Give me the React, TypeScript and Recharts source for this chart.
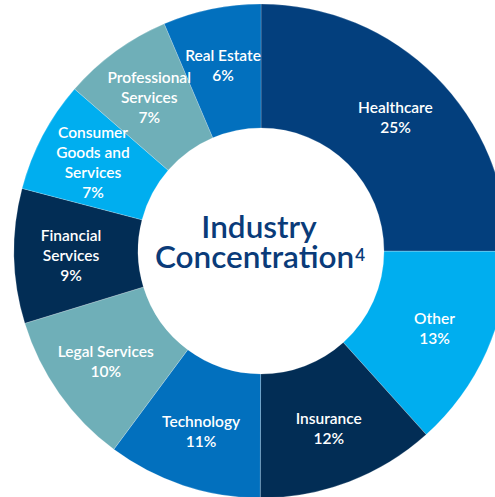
import React from "react";
import { PieChart, Pie, Cell } from "recharts";

const categories = [
  "Healthcare",
  "Other",
  "Insurance",
  "Technology",
  "Legal Services",
  "Financial Services",
  "Consumer Goods and Services",
  "Professional Services",
  "Real Estate",
];
const labelLines = [
  ["Healthcare"],
  ["Other"],
  ["Insurance"],
  ["Technology"],
  ["Legal Services"],
  ["Financial", "Services"],
  ["Consumer", "Goods and", "Services"],
  ["Professional", "Services"],
  ["Real Estate"],
];
// percentages printed on the chart
const pctLabels = ["25%", "13%", "12%", "11%", "10%", "9%", "7%", "7%", "6%"];
// slice sizes as drawn in the picture (percent of the ring)
const arcValues = [25, 13.3, 11.7, 10.1, 10.1, 8.8, 7.3, 7.2, 6.4];
const colors = [
  "#033F7D",
  "#00AEEF",
  "#022D55",
  "#0270BE",
  "#6FAFB8",
  "#022D55",
  "#00AEEF",
  "#6FAFB8",
  "#0270BE",
];
const titleLines = ["Industry", "Concentration"];
const footnote = "4";

const data = categories.map((name, i) => ({ name, value: arcValues[i] }));

const CX = 261;
const CY = 251;
const RAD = Math.PI / 180;
const FONT = "Lato, 'Open Sans', sans-serif";

const renderLabel = (props: any) => {
  const { cx, cy, midAngle, innerRadius, outerRadius, index } = props;
  const r = (innerRadius + outerRadius) / 2 + 5;
  const x = cx + r * Math.cos(-midAngle * RAD);
  const y = cy + r * Math.sin(-midAngle * RAD);
  const lines = [...labelLines[index], pctLabels[index]];
  const lh = 20;
  const y0 = y - ((lines.length - 1) * lh) / 2;
  return (
    <text
      key={`lbl-${index}`}
      x={x}
      y={y0}
      fill="#ffffff"
      textAnchor="middle"
      dominantBaseline="central"
      style={{ fontFamily: FONT, fontSize: 15.5, fontWeight: 600 }}
    >
      {lines.map((l, k) => (
        <tspan key={k} x={x} dy={k === 0 ? 0 : lh}>
          {l}
        </tspan>
      ))}
    </text>
  );
};

export default function App() {
  const st = { fontFamily: FONT, fontSize: 31.5, fontWeight: 600 };
  return (
    <div style={{ position: "absolute", left: 0, top: 0, width: 495, height: 497, overflow: "hidden", background: "#ffffff" }}>
      <div style={{ position: "relative", width: 495, height: 497 }}>
        <PieChart width={495} height={497} margin={{ top: 0, right: 0, bottom: 0, left: 0 }}>
          <Pie
            data={data}
            dataKey="value"
            nameKey="name"
            cx={CX}
            cy={CY}
            innerRadius={123}
            outerRadius={247}
            startAngle={90}
            endAngle={-270}
            stroke="rgba(255,255,255,0.35)"
            strokeWidth={0.6}
            label={renderLabel}
            labelLine={false}
            isAnimationActive={false}
          >
            {data.map((d, i) => (
              <Cell key={d.name} fill={colors[i]} />
            ))}
          </Pie>
        </PieChart>
        <svg width={495} height={497} style={{ position: "absolute", left: 0, top: 0, pointerEvents: "none" }}>
          <text x={CX - 2} y={CY - 13} textAnchor="middle" fill="#0A3B79" style={st}>
            {titleLines[0]}
          </text>
          <text x={CX - 1} y={CY + 17} textAnchor="middle" fill="#0A3B79" style={st}>
            {titleLines[1]}
            <tspan dx={1} dy={-7} fontSize={17}>
              {footnote}
            </tspan>
          </text>
        </svg>
      </div>
    </div>
  );
}
